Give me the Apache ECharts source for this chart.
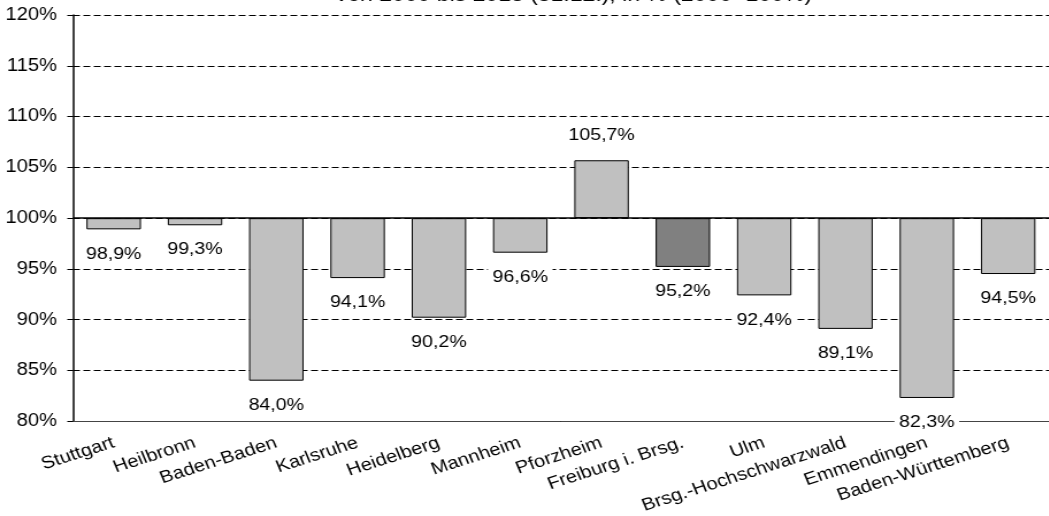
<!DOCTYPE html>
<html>
<head>
<meta charset="utf-8">
<script src="https://cdn.jsdelivr.net/npm/echarts@6/dist/echarts.min.js"></script>
<style>
  html, body { margin: 0; padding: 0; background: #fff; overflow: hidden; }
  #wrap { width: 1049px; height: 516px; overflow: hidden; }
  /* the chart is laid out narrow and widened, giving the broad lettering */
  #chart { width: 912px; height: 516px; transform: scaleX(1.15); transform-origin: 0 0; }
</style>
</head>
<body>
<div id="wrap"><div id="chart"></div></div>
<script>
// Bevölkerungsentwicklung je Kreis, 2000 = 100 %
const categories = [
  'Stuttgart', 'Heilbronn', 'Baden-Baden', 'Karlsruhe', 'Heidelberg', 'Mannheim',
  'Pforzheim', 'Freiburg i. Brsg.', 'Ulm', 'Brsg.-Hochschwarzwald', 'Emmendingen',
  'Baden-Württemberg'
];
const values = [98.9, 99.3, 84.0, 94.1, 90.2, 96.6, 105.7, 95.2, 92.4, 89.1, 82.3, 94.5];
const highlighted = ['Freiburg i. Brsg.'];
const baseline = 100;          // bars grow up or down from 100 %
const axisMin = 80;
const axisMax = 120;
const axisStep = 5;
const titleText = 'von 2000 bis 2013 (31.12.), in % (2000=100%)';

const FONT = '"Liberation Sans", Arial, sans-serif';
const fmt = v => v.toFixed(1).replace('.', ',') + '%';

const barData = values.map((v, i) => ({
  value: +(v - baseline).toFixed(2),
  itemStyle: { color: highlighted.includes(categories[i]) ? '#808080' : '#c0c0c0' },
  label: { position: v < baseline ? 'bottom' : 'top' }
}));

const chart = echarts.init(document.getElementById('chart'));
chart.setOption({
  animation: false,
  title: {
    text: titleText,
    left: 494,
    textAlign: 'center',
    top: -20,
    textStyle: { fontFamily: FONT, fontSize: 20, fontWeight: 'normal', color: '#000' }
  },
  grid: { left: 63.5, top: 15, width: 856, height: 409, containLabel: false },
  xAxis: {
    type: 'category',
    data: categories,
    axisLine: { show: true, onZero: false, lineStyle: { color: '#444', width: 1 } },
    axisTick: { show: false },
    axisLabel: {
      rotate: 20, margin: 21, interval: 0,
      fontFamily: FONT, fontSize: 17.5, color: '#000'
    }
  },
  yAxis: {
    type: 'value',
    min: axisMin - baseline,
    max: axisMax - baseline,
    interval: axisStep,
    axisLine: { show: true, lineStyle: { color: '#000', width: 1.5 } },
    axisTick: { show: true, length: 5, lineStyle: { color: '#000' } },
    axisLabel: {
      margin: 14, fontFamily: FONT, fontSize: 17.5, color: '#000',
      formatter: v => (v + baseline) + '%'
    },
    splitLine: { show: true, lineStyle: { color: '#000', width: 1, type: [6, 3] } }
  },
  series: [{
    type: 'bar',
    data: barData,
    barWidth: '67%',
    itemStyle: { borderColor: '#000', borderWidth: 1 },
    label: {
      show: true,
      distance: 15,
      fontFamily: FONT, fontSize: 17, color: '#000',
      backgroundColor: '#fff',
      padding: [1, 4],
      formatter: p => fmt(values[p.dataIndex])
    },
    markLine: {
      silent: true,
      symbol: 'none',
      label: { show: false },
      lineStyle: { color: '#000', type: 'solid', width: 1.5 },
      data: [{ yAxis: 0 }]
    }
  }]
});
</script>
</body>
</html>
